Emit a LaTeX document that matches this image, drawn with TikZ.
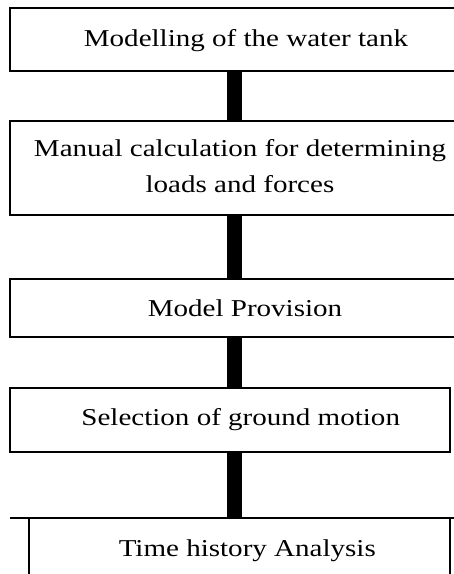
\documentclass[tikz,border=0pt]{standalone}
\usepackage{fontspec}
\setmainfont{Liberation Serif}
\usepackage{color,graphicx}
\usepackage{amsmath,tikz}
\newcommand{\wide}[1]{\scalebox{1.2}[1]{#1}}

\begin{document}
\begin{tikzpicture}[x=1pt,y=-1pt,
  stagebox/.style={draw,line width=2pt,inner sep=0pt,outer sep=0pt,anchor=north west},
  stagetext/.style={inner sep=0pt,anchor=base,align=center,font=\fontsize{24.2}{35.5}\selectfont},
  thickbar/.style={line width=15pt}]
\useasboundingbox (0,0) rectangle (454,574);
% boxes
\node[stagebox,minimum width=474pt,minimum height=62.5pt] (modelbox) at (10,8) {};
\node[stagebox,minimum width=474pt,minimum height=94pt] (calcbox) at (10,121) {};
\node[stagebox,minimum width=474pt,minimum height=57.5pt] (provbox) at (10,279) {};
\node[stagebox,minimum width=440pt,minimum height=64.5pt] (motionbox) at (10,387.7) {};
\node[stagebox,minimum width=420.5pt,minimum height=80pt] (timebox) at (29.3,517.7) {};
\coordinate (rulel) at (10,517.7);
\coordinate (ruler) at (470,517.7);
\draw[line width=2pt] (rulel) -- (ruler);
% texts
\node[stagetext] (modeltext) at (246,46) {\wide{Modelling of the water tank}};
\node[stagetext] (calctext) at (240,192) {\wide{Manual calculation for determining}\\\wide{loads and forces}};
\node[stagetext] (provtext) at (245,316.7) {\wide{Model Provision}};
\node[stagetext] (motiontext) at (240.7,425) {\wide{Selection of ground motion}};
\node[stagetext] (timetext) at (247.3,556.7) {\wide{Time history Analysis}};
% bars
\coordinate (spine) at (234.5,0);
\draw[thickbar] (modelbox.south -| spine) -- (calcbox.north -| spine);
\draw[thickbar] (calcbox.south -| spine) -- (provbox.north -| spine);
\draw[thickbar] (provbox.south -| spine) -- (motionbox.north -| spine);
\draw[thickbar] (motionbox.south -| spine) -- (timebox.north -| spine);
\end{tikzpicture}
\end{document}
